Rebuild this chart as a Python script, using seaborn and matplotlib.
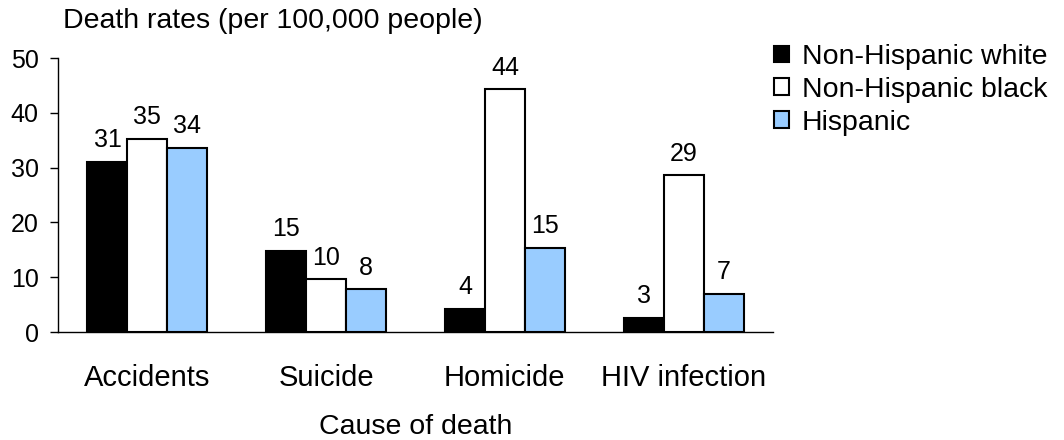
import numpy as np
import pandas as pd
import matplotlib
matplotlib.use("Agg")
import matplotlib.pyplot as plt
import seaborn as sns
from matplotlib.patches import Patch

causes = ["Accidents", "Suicide", "Homicide", "HIV infection"]
groups = ["Non-Hispanic white", "Non-Hispanic black", "Hispanic"]
white_vals = [31.0, 14.8, 4.2, 2.6]
black_vals = [35.2, 9.6, 44.3, 28.6]
hisp_vals = [33.6, 7.8, 15.3, 6.9]
colors = ["#000000", "#FFFFFF", "#99CCFF"]

df = pd.DataFrame({
    "cause": causes * 3,
    "group": [groups[0]] * 4 + [groups[1]] * 4 + [groups[2]] * 4,
    "rate": white_vals + black_vals + hisp_vals,
})

sns.set_style("white")
plt.rcParams["font.family"] = ["Liberation Sans", "DejaVu Sans"]
plt.rcParams["text.color"] = "black"
plt.rcParams["axes.labelcolor"] = "black"
plt.rcParams["xtick.color"] = "black"
plt.rcParams["ytick.color"] = "black"

fig = plt.figure(figsize=(10.64, 4.4), dpi=100)
ax = fig.add_axes([58 / 1064, 1 - 332 / 440, (773 - 58) / 1064, (332 - 58) / 440])

sns.barplot(data=df, x="cause", y="rate", hue="group", hue_order=groups,
            palette=colors, width=0.67, edgecolor="black", linewidth=1.5,
            saturation=1, legend=False, ax=ax, errorbar=None)

# value labels on top of bars
for cont in ax.containers:
    ax.bar_label(cont, fmt="%.0f", padding=7, fontsize=18)

ax.set_ylim(0, 50)
ax.set_xlim(-0.5, 3.5)
ax.set_yticks(range(0, 51, 10))
ax.set_xticks(range(len(causes)))
ax.set_xticklabels(causes)
ax.set_xticks(np.arange(-0.5, 4, 1), minor=True)
ax.tick_params(axis="x", which="major", length=0, labelsize=21, pad=23)
ax.tick_params(axis="x", which="minor", length=6, width=1, direction="out", color="black")
ax.tick_params(axis="y", length=6, width=1, direction="out", color="black", labelsize=18, pad=8, left=True)
for s in ["top", "right"]:
    ax.spines[s].set_visible(False)
for s in ["left", "bottom"]:
    ax.spines[s].set_color("black")
    ax.spines[s].set_linewidth(1)

ax.set_xlabel("Cause of death", fontsize=20.5, labelpad=16)
ax.set_ylabel("")
fig.text(63 / 1064, 1 - 21 / 440, "Death rates (per 100,000 people)", fontsize=20.5, va="center", ha="left")

handles = [Patch(facecolor=c, edgecolor="black", linewidth=1.5) for c in colors]
fig.legend(handles, groups, loc="upper left", bbox_to_anchor=(774 / 1064, 1 - 44 / 440),
           frameon=False, fontsize=20.5, handlelength=0.53, handleheight=0.53,
           handletextpad=0.45, labelspacing=0.24, borderaxespad=0, borderpad=0)

fig.savefig("out.png", dpi=100)
